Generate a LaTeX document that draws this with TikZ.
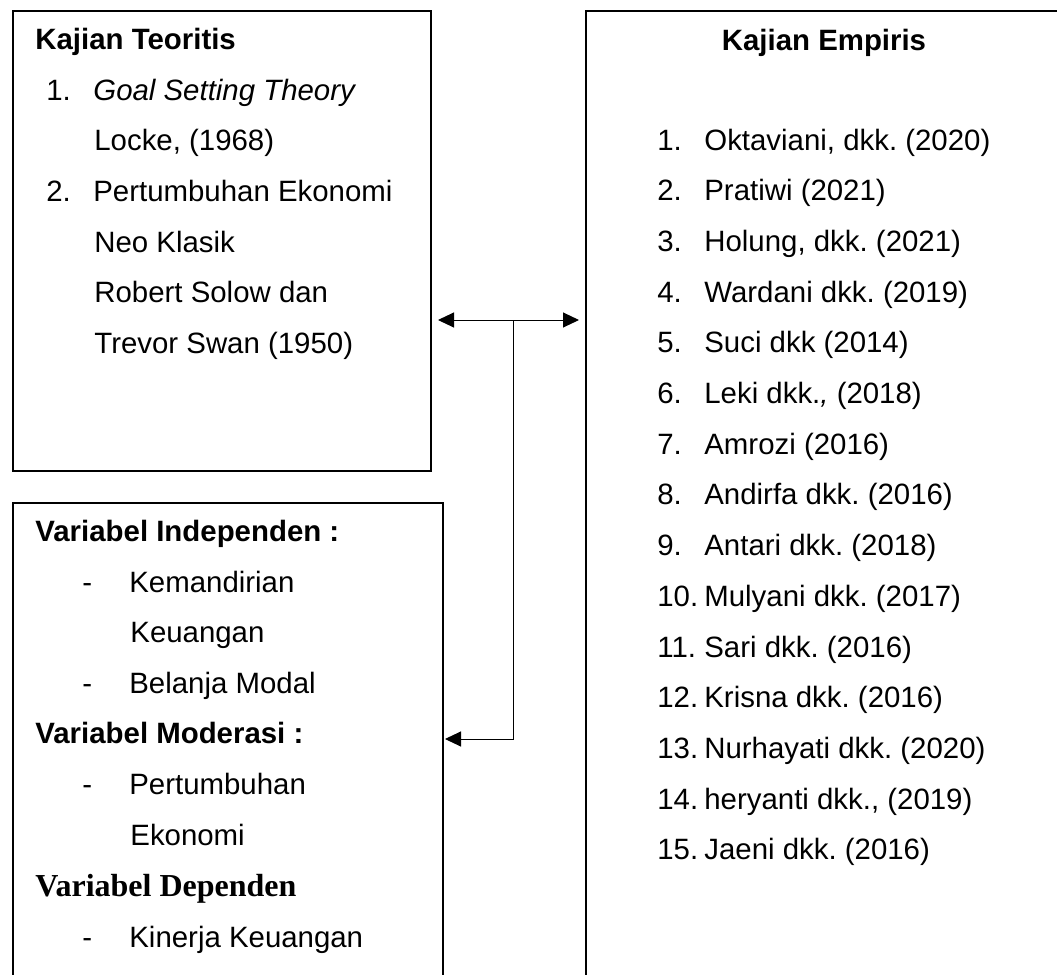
\documentclass[tikz,border=0pt]{standalone}
\usepackage{fontspec}
\setmainfont{Liberation Sans}
\newfontfamily\serifbold{Liberation Serif}
\usetikzlibrary{arrows.meta,positioning,calc}

\tikzset{
  box/.style={draw, line width=1pt, rectangle, anchor=north west, inner sep=0pt},
  txt/.style={anchor=base west, inner sep=0pt},
  conn/.style={line width=0.5pt, >={Triangle[length=8pt,width=7.5pt]}},
}
\newcommand{\nbox}[1]{\makebox[23.5pt][l]{#1}}
\frenchspacing

\begin{document}
\begin{tikzpicture}[x=0.5pt,y=-0.5pt,font=\fontsize{14.7}{17}\selectfont]
    \clip (0,0) rectangle (1057,975);

    % Boxes
    \node[box, minimum width=209pt, minimum height=230pt] (teori) at (12,10) {};
    \node[box, minimum width=215pt, minimum height=260pt] (variabel) at (12,502) {};
    \node[box, minimum width=250pt, minimum height=500pt] (empiris) at (585,10) {};

    % Kajian Teoritis
    \node[txt] (kt) at (35,49) {\textbf{Kajian Teoritis}};
    \node[txt] (t1) at (46,100) {\nbox{1.}\textit{Goal Setting Theory}};
    \node[txt] (t1b) at (94,150) {Locke, (1968)};
    \node[txt] (t2) at (46,201) {\nbox{2.}Pertumbuhan Ekonomi};
    \node[txt] (t2b) at (94,252) {Neo Klasik};
    \node[txt] (t2c) at (94,302) {Robert Solow dan};
    \node[txt] (t2d) at (94,353) {Trevor Swan (1950)};

    % Variabel
    \node[txt] (vi) at (35,541) {\textbf{Variabel Independen :}};
    \node[txt] (vi1) at (82,592) {\nbox{-}Kemandirian};
    \node[txt] (vi1b) at (130,642) {Keuangan};
    \node[txt] (vi2) at (82,693) {\nbox{-}Belanja Modal};
    \node[txt] (vm) at (35,743) {\textbf{Variabel Moderasi :}};
    \node[txt] (vm1) at (82,794) {\nbox{-}Pertumbuhan};
    \node[txt] (vm1b) at (130,845) {Ekonomi};
    \node[txt] (vd) at (35,896) {\fontsize{16}{17}\serifbold\bfseries Variabel Dependen};
    \node[txt] (vd1) at (82,947) {\nbox{-}Kinerja Keuangan};

    % Kajian Empiris
    \node[anchor=base, inner sep=0pt] (ke) at (824,50) {\textbf{Kajian Empiris}};
    \node[txt] (e1) at (657,150) {\nbox{1.}Oktaviani, dkk. (2020)};
    \node[txt] (e2) at (657,200.7) {\nbox{2.}Pratiwi (2021)};
    \node[txt] (e3) at (657,251.4) {\nbox{3.}Holung, dkk. (2021)};
    \node[txt] (e4) at (657,302.1) {\nbox{4.}Wardani dkk. (2019)};
    \node[txt] (e5) at (657,352.8) {\nbox{5.}Suci dkk (2014)};
    \node[txt] (e6) at (657,403.5) {\nbox{6.}Leki dkk.\textit{,} (2018)};
    \node[txt] (e7) at (657,454.2) {\nbox{7.}Amrozi (2016)};
    \node[txt] (e8) at (657,504.9) {\nbox{8.}Andirfa dkk. (2016)};
    \node[txt] (e9) at (657,555.6) {\nbox{9.}Antari dkk. (2018)};
    \node[txt] (e10) at (657,606.3) {\nbox{10.}Mulyani dkk. (2017)};
    \node[txt] (e11) at (657,657) {\nbox{11.}Sari dkk. (2016)};
    \node[txt] (e12) at (657,707.7) {\nbox{12.}Krisna dkk. (2016)};
    \node[txt] (e13) at (657,758.4) {\nbox{13.}Nurhayati dkk. (2020)};
    \node[txt] (e14) at (657,809.1) {\nbox{14.}heryanti dkk., (2019)};
    \node[txt] (e15) at (657,859.8) {\nbox{15.}Jaeni dkk. (2016)};

    % Connectors
    \coordinate (cross) at (513,320);
    \coordinate (bend) at (513,739);
    \draw[conn, <->] ([xshift=3pt]teori.east |- cross) -- ([xshift=-3pt]empiris.west |- cross);
    \draw[conn, ->] (cross) -- (bend) -- ([xshift=0.5pt]variabel.east |- bend);
\end{tikzpicture}
\end{document}
